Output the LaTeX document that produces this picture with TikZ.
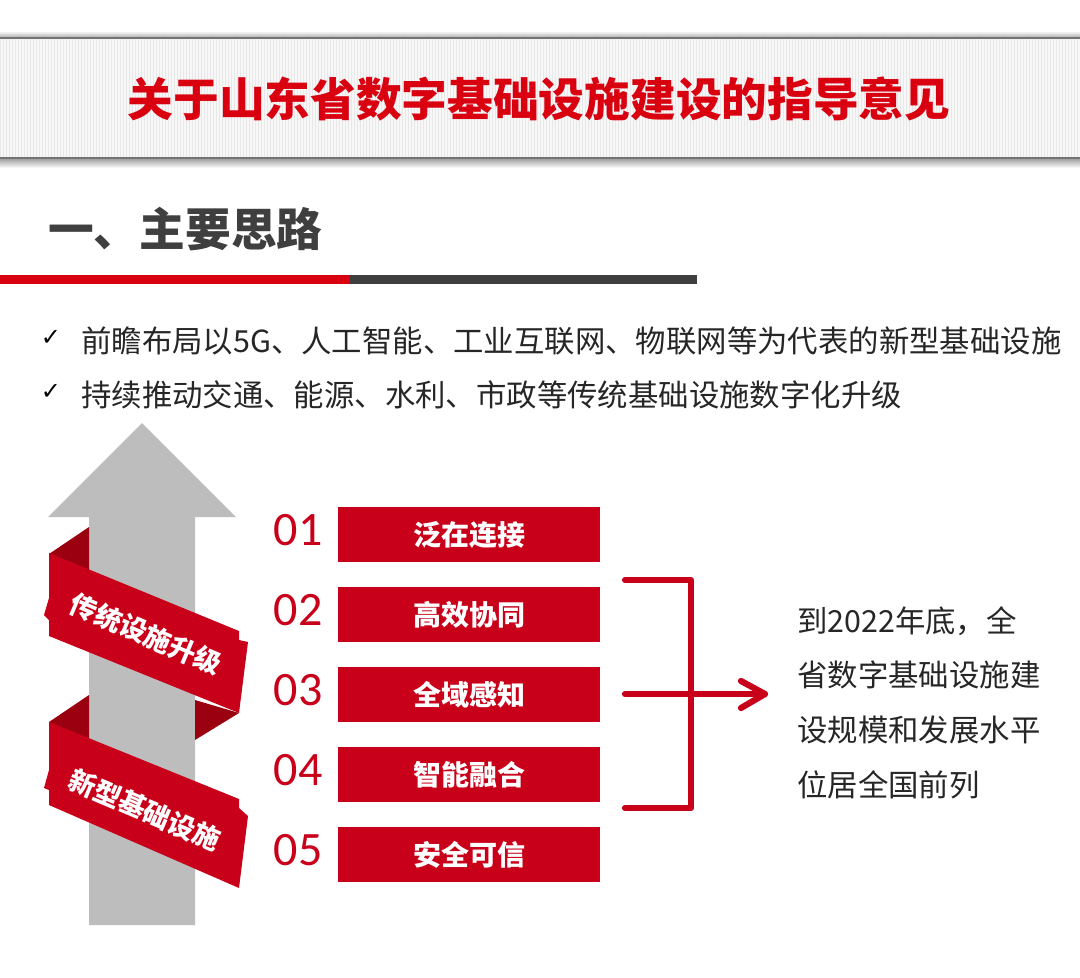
\documentclass[tikz,border=0pt]{standalone}
\usepackage{fontspec}
\setmainfont{Noto Sans CJK SC}
\newfontfamily\cjkfont{Noto Sans CJK SC}
\newfontfamily\numfont{Carlito}
\newfontfamily\symfont{DejaVu Sans}
\definecolor{cred}{HTML}{C9001A}
\definecolor{tred}{HTML}{D9000F}
\definecolor{dred}{HTML}{9A000F}
\definecolor{arrowgrey}{HTML}{BDBDBD}
\definecolor{darkt}{HTML}{3F3F3F}
\usetikzlibrary{calc}
\tikzset{
  x=1pt,y=-1pt,
  itembox/.style={fill=cred,minimum width=262pt,minimum height=55pt,inner sep=0pt,text=white,font=\cjkfont\bfseries\fontsize{28}{30}\selectfont},
  numlabel/.style={text=cred,font=\numfont\fontsize{48}{50}\selectfont,inner sep=0pt},
  bullet/.style={anchor=west,inner sep=0pt,text=black!85,font=\cjkfont\fontsize{30.4}{34}\selectfont},
  tick/.style={anchor=center,inner sep=0pt,font=\symfont\bfseries\fontsize{24}{26}\selectfont},
  concl/.style={anchor=west,inner sep=0pt,text=black!85,font=\cjkfont\fontsize{30.4}{34}\selectfont},
  ribbon/.style={fill=cred,draw=none},
  fold/.style={fill=dred,draw=none},
  ribtext/.style={text=white,inner sep=0pt,rotate=-23,font=\cjkfont\bfseries\fontsize{27}{29}\selectfont},
  brace/.style={draw=cred,line width=6.2pt,line cap=round,line join=round},
}
\begin{document}
\begin{tikzpicture}
\useasboundingbox (0,0) rectangle (1080,978);
\fill[white] (0,0) rectangle (1080,978);
% header band
\shade[top color=white,bottom color=black!35] (0,31) rectangle (1080,38);
\shade[top color=black!40,bottom color=white] (0,158) rectangle (1080,168);
\fill[white!97!black] (0,38) rectangle (1080,158);
\foreach \i in {0,3,...,1080}{\fill[black!9] (\i,38) rectangle (\i+1,158);}
\draw[black!55,line width=1.4pt] (0,38)--(1080,38);
\draw[black!55,line width=1.4pt] (0,158)--(1080,158);
\node[text=tred,inner sep=0pt,font=\cjkfont\bfseries\fontsize{45.7}{48}\selectfont] (title) at (539,99) {关于山东省数字基础设施建设的指导意见};
\node[anchor=west,inner sep=0pt,text=darkt,font=\cjkfont\bfseries\fontsize{45.7}{48}\selectfont] (sec) at (48,229) {一、主要思路};
\fill[tred] (0,275) rectangle (349,284);
\fill[darkt] (349,275) rectangle (697,284);
% bullets
\node[tick] (t1) at (51,338) {✓};
\node[bullet] (b1) at (81,341) {前瞻布局以5G、人工智能、工业互联网、物联网等为代表的新型基础设施};
\node[tick] (t2) at (51,392) {✓};
\node[bullet] (b2) at (81,395) {持续推动交通、能源、水利、市政等传统基础设施数字化升级};
% arrow
\fill[arrowgrey] (142,423)--(236,517)--(195,517)--(195,925)--(89,925)--(89,517)--(48,517)--cycle;
% folds
\fill[fold] (89,527)--(49,554)--(89,575)--cycle;
\fill[fold] (195,700)--(239,713)--(195,740)--cycle;
\fill[fold] (89,695)--(49,722)--(89,745)--cycle;
% ribbon 1
\fill[ribbon] (49,553)--(239,631)--(239,640)--(248,642)--(239,713)--(49,636)--(49,620)--(44,615)--(49,598)--cycle;
\fill[ribbon] (49,722)--(239,799)--(239,808)--(248,816)--(239,888)--(49,805)--(49,790)--(44,788)--(49,770)--cycle;
\node[ribtext] (r1) at (146,634) {传统设施升级};
\node[ribtext] (r2) at (145,810) {新型基础设施};
% items
\foreach \n/\lab/\y in {1/泛在连接/534.5,2/高效协同/614.5,3/全域感知/694.5,4/智能融合/774.5,5/安全可信/854.5}{
  \node[itembox] (box\n) at (469,\y) {\lab};
  \node[numlabel] (num\n) at (298,\y-4) {0\n};
}
% bracket
\coordinate (bt) at (625,580);
\coordinate (bc) at (691,580);
\coordinate (bd) at (691,808);
\coordinate (be) at (625,808);
\coordinate (ms) at (625,694);
\coordinate (mt) at (765,694);
\coordinate (w1) at (741,681);
\coordinate (w2) at (741,708);
\draw[brace] (bt)--(bc)--(bd)--(be);
\draw[brace] (ms)--(mt);
\draw[brace] (w1)--(mt)--(w2);
% conclusion
\node[concl] (c1) at (797,621) {到2022年底，全};
\node[concl] (c2) at (797,675) {省数字基础设施建};
\node[concl] (c3) at (797,730) {设规模和发展水平};
\node[concl] (c4) at (797,785) {位居全国前列};
\end{tikzpicture}
\end{document}
